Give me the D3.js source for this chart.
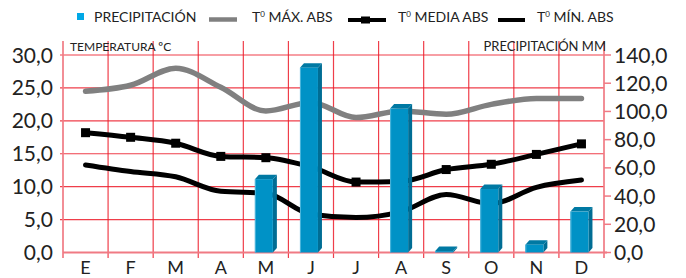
<!DOCTYPE html>
<html>
<head>
<meta charset="utf-8">
<script src="https://cdn.jsdelivr.net/npm/d3@7"></script>
<style>
    body { margin: 0; background: #fff; }
    text { font-family: Lato, "Open Sans", sans-serif; fill: #222; }
</style>
</head>
<body>
<div id="chart"></div>
<script>
var months = ["E", "F", "M", "A", "M", "J", "J", "A", "S", "O", "N", "D"];
var precip = [0, 0, 0, 0, 52, 131, 0, 102, 1, 45, 5.5, 29];
var tMax = [24.5, 25.4, 28.0, 25.1, 21.5, 22.8, 20.5, 21.5, 21.0, 22.5, 23.4, 23.4];
var tMedia = [18.2, 17.5, 16.6, 14.6, 14.4, 13.0, 10.7, 10.8, 12.6, 13.4, 14.9, 16.5];
var tMin = [13.3, 12.3, 11.5, 9.3, 9.0, 5.8, 5.3, 6.2, 8.8, 7.4, 9.9, 11.0];
var tempTicks = [0, 5, 10, 15, 20, 25, 30];
var precipTicks = [0, 20, 40, 60, 80, 100, 120, 140];

var width = 686;
var height = 278;

var margin = {
    top: 55,
    bottom: 25.5,
    left: 63,
    right: 82,
};

var fmt = function(d) {
    return d3.format('.1f')(d).replace('.', ',');
};

var svg = d3.select('#chart')
    .append('svg')
    .attr('width', width)
    .attr('height', height);

var x = d3.scaleBand()
    .domain(d3.range(months.length))
    .range([margin.left, width - margin.right]);

var yT = d3.scaleLinear()
    .domain([0, 30])
    .range([height - margin.bottom, margin.top]);

var yP = d3.scaleLinear()
    .domain([0, 140])
    .range([height - margin.bottom, margin.top]);

var gridTop = 41;
var gridBottom = height - margin.bottom + 5.5;
var red = '#ec1c2a';

// grid
var grid = svg.append('g').attr('class', 'grid');

grid.selectAll('.hline')
    .data(tempTicks.slice(1))
    .enter()
    .append('line')
    .attr('x1', margin.left - 3)
    .attr('x2', width - margin.right)
    .attr('y1', function(d) { return yT(d); })
    .attr('y2', function(d) { return yT(d); })
    .attr('stroke', red)
    .attr('stroke-opacity', 0.85)
    .attr('stroke-width', 1.2);

var bounds = d3.range(months.length + 1).map(function(i) {
    return i < months.length ? x(i) : x(i - 1) + x.bandwidth();
});

grid.selectAll('.vline')
    .data(bounds)
    .enter()
    .append('line')
    .attr('x1', function(d) { return d; })
    .attr('x2', function(d) { return d; })
    .attr('y1', gridTop)
    .attr('y2', gridBottom)
    .attr('stroke', function(d, i) { return (i == 0 || i == months.length) ? '#f07a84' : red; })
    .attr('stroke-opacity', 0.85)
    .attr('stroke-width', function(d, i) { return (i == 0 || i == months.length) ? 2 : 1.2; });

// bottom axis line
grid.append('line')
    .attr('x1', margin.left)
    .attr('x2', width - margin.right + 3)
    .attr('y1', yT(0))
    .attr('y2', yT(0))
    .attr('stroke', '#f07a84')
    .attr('stroke-width', 2);

// right ticks
grid.selectAll('.rtick')
    .data(precipTicks)
    .enter()
    .append('line')
    .attr('x1', width - margin.right)
    .attr('x2', width - margin.right + 7)
    .attr('y1', function(d) { return yP(d); })
    .attr('y2', function(d) { return yP(d); })
    .attr('stroke', '#f07a84')
    .attr('stroke-width', 1.5);

// axis labels
svg.selectAll('.ylab')
    .data(tempTicks)
    .enter()
    .append('text')
    .attr('x', 53)
    .attr('y', function(d) { return yT(d); })
    .attr('dy', '0.36em')
    .attr('text-anchor', 'end')
    .attr('font-size', '21px')
    .text(fmt);

svg.selectAll('.plab')
    .data(precipTicks)
    .enter()
    .append('text')
    .attr('x', width - margin.right + 10)
    .attr('y', function(d) { return yP(d); })
    .attr('dy', '0.36em')
    .attr('font-size', '21px')
    .text(fmt);

svg.selectAll('.mlab')
    .data(months)
    .enter()
    .append('text')
    .attr('x', function(d, i) { return x(i) + x.bandwidth() / 2; })
    .attr('y', 274)
    .attr('text-anchor', 'middle')
    .attr('font-size', '18px')
    .text(function(d) { return d; });

svg.append('text')
    .attr('x', 70)
    .attr('y', 51)
    .attr('font-size', '12px')
    .text('TEMPERATURA ºC');

svg.append('text')
    .attr('x', 606)
    .attr('y', 51)
    .attr('text-anchor', 'end')
    .attr('font-size', '13px')
    .text('PRECIPITACIÓN MM');

// temperature lines
var line = function(values) {
    return d3.line()
        .x(function(d, i) { return x(i) + x.bandwidth() / 2; })
        .y(function(d) { return yT(d); })
        .curve(d3.curveMonotoneX)(values);
};

svg.append('path')
    .attr('d', line(tMax))
    .attr('fill', 'none')
    .attr('stroke', '#808080')
    .attr('stroke-width', 5.5)
    .attr('stroke-linecap', 'round');

svg.append('path')
    .attr('d', line(tMin))
    .attr('fill', 'none')
    .attr('stroke', '#000')
    .attr('stroke-width', 5)
    .attr('stroke-linecap', 'round');

svg.append('path')
    .attr('d', line(tMedia))
    .attr('fill', 'none')
    .attr('stroke', '#000')
    .attr('stroke-width', 5)
    .attr('stroke-linecap', 'round');

svg.selectAll('.media')
    .data(tMedia)
    .enter()
    .append('rect')
    .attr('x', function(d, i) { return x(i) + x.bandwidth() / 2 - 4.5; })
    .attr('y', function(d) { return yT(d) - 4.5; })
    .attr('width', 9)
    .attr('height', 9)
    .attr('fill', '#000');

// 3d precipitation bars
var barW = 18;
var dx = 4;
var dy = 4.5;

var bars = svg.selectAll('.bar')
    .data(precip.map(function(v, i) { return { v: v, i: i }; }).filter(function(d) { return d.v > 0; }))
    .enter()
    .append('g')
    .attr('class', 'bar');

bars.append('path')
    .attr('d', function(d) {
        var x0 = x(d.i) + x.bandwidth() / 2 - (barW + dx) / 2;
        var top = yP(d.v);
        var bot = yP(0);
        return 'M' + (x0 + barW) + ',' + top + ' L' + (x0 + barW + dx) + ',' + (top - dy) +
            ' L' + (x0 + barW + dx) + ',' + (bot - dy) + ' L' + (x0 + barW) + ',' + bot + 'Z';
    })
    .attr('fill', '#006d94');

bars.append('path')
    .attr('d', function(d) {
        var x0 = x(d.i) + x.bandwidth() / 2 - (barW + dx) / 2;
        var top = yP(d.v);
        return 'M' + x0 + ',' + top + ' L' + (x0 + dx) + ',' + (top - dy) +
            ' L' + (x0 + barW + dx) + ',' + (top - dy) + ' L' + (x0 + barW) + ',' + top + 'Z';
    })
    .attr('fill', '#0079a3');

bars.append('rect')
    .attr('x', function(d) { return x(d.i) + x.bandwidth() / 2 - (barW + dx) / 2; })
    .attr('y', function(d) { return yP(d.v); })
    .attr('width', barW)
    .attr('height', function(d) { return yP(0) - yP(d.v); })
    .attr('fill', '#0092c6');

bars.append('line')
    .attr('x1', function(d) { return x(d.i) + x.bandwidth() / 2 - (barW + dx) / 2 + 0.5; })
    .attr('x2', function(d) { return x(d.i) + x.bandwidth() / 2 - (barW + dx) / 2 + 0.5; })
    .attr('y1', function(d) { return yP(d.v); })
    .attr('y2', yP(0))
    .attr('stroke', '#4db6dc')
    .attr('stroke-width', 1);

// legend
var legend = svg.append('g').attr('class', 'legend');

legend.append('rect')
    .attr('x', 77)
    .attr('y', 13)
    .attr('width', 7)
    .attr('height', 7)
    .attr('fill', '#00a8e6');

legend.append('line')
    .attr('x1', 209).attr('x2', 237)
    .attr('y1', 19.5).attr('y2', 19.5)
    .attr('stroke', '#808080')
    .attr('stroke-width', 4.5);

legend.append('line')
    .attr('x1', 348).attr('x2', 386)
    .attr('y1', 20).attr('y2', 20)
    .attr('stroke', '#000')
    .attr('stroke-width', 4);

legend.append('rect')
    .attr('x', 361).attr('y', 16.5)
    .attr('width', 9).attr('height', 7)
    .attr('fill', '#000');

legend.append('line')
    .attr('x1', 498).attr('x2', 525)
    .attr('y1', 20).attr('y2', 20)
    .attr('stroke', '#000')
    .attr('stroke-width', 4);

legend.append('text')
    .attr('x', 94)
    .attr('y', 22)
    .attr('font-size', '14px')
    .text('PRECIPITACIÓN');

var tLabels = [
    { x: 252, rest: ' MÁX. ABS' },
    { x: 398, rest: ' MEDIA ABS' },
    { x: 537, rest: ' MÍN. ABS' }
];

tLabels.forEach(function(l) {
    var t = legend.append('text')
        .attr('x', l.x)
        .attr('y', 22)
        .attr('font-size', '14px');
    t.append('tspan').text('T');
    t.append('tspan')
        .attr('font-size', '8px')
        .attr('dy', -5)
        .text('0');
    t.append('tspan')
        .attr('dy', 5)
        .text(l.rest);
});
</script>
</body>
</html>
